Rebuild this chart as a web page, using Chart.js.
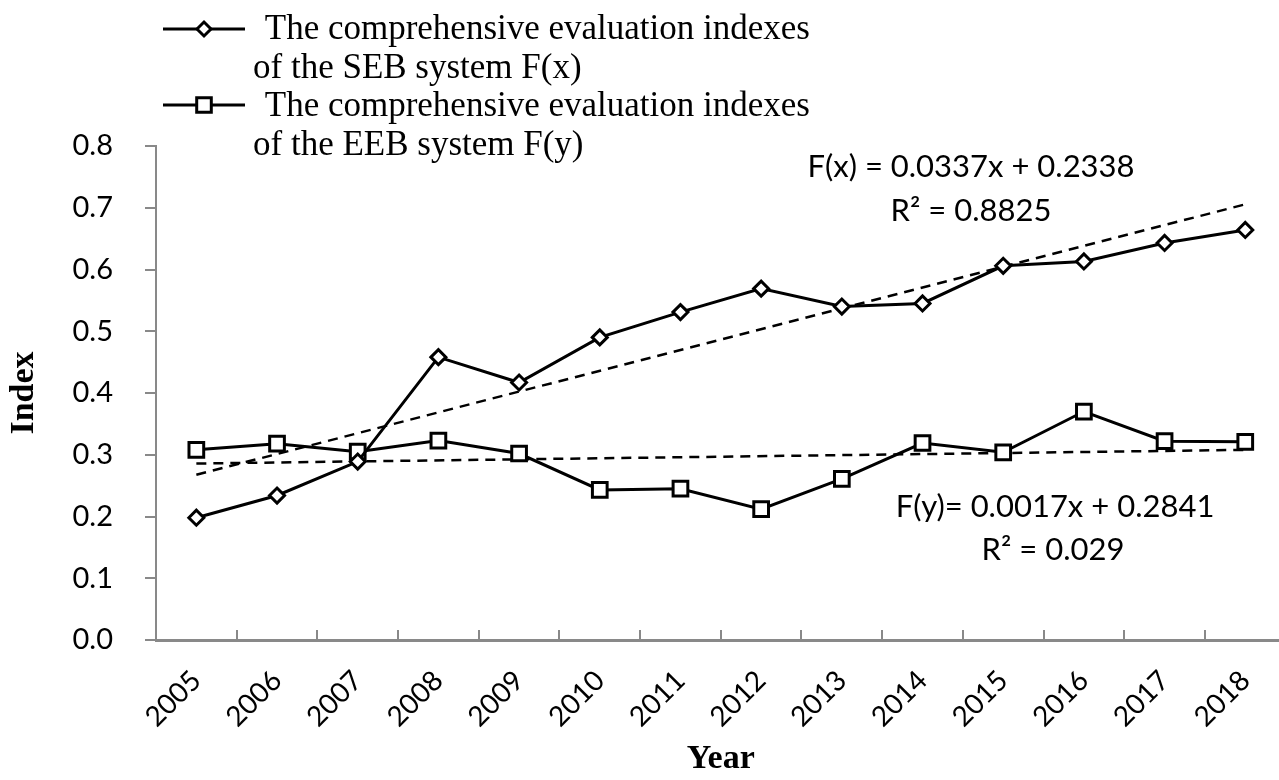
<!DOCTYPE html>
<html>
<head>
<meta charset="utf-8">
<script src="https://cdn.jsdelivr.net/npm/chart.js@4.4.1/dist/chart.umd.min.js"></script>
<style>
html,body{margin:0;padding:0;background:#fff;overflow:hidden;}
#wrap{position:relative;width:1279px;height:780px;overflow:hidden;}
canvas{display:block;}
</style>
</head>
<body>
<div id="wrap"><canvas id="c" width="1299" height="780"></canvas></div>
<script>
// ---- data ----
const years = ['2005','2006','2007','2008','2009','2010','2011','2012','2013','2014','2015','2016','2017','2018'];
const sebIndex = [0.198,0.234,0.289,0.458,0.417,0.490,0.531,0.569,0.540,0.545,0.606,0.613,0.643,0.664];
const eebIndex = [0.308,0.318,0.305,0.323,0.302,0.243,0.245,0.212,0.261,0.319,0.304,0.370,0.322,0.321];
const sebTrend = [0.2675,null,null,null,null,null,null,null,null,null,null,null,null,0.7056];
const eebTrend = [0.2858,null,null,null,null,null,null,null,null,null,null,null,null,0.3079];
const yTicks = [0,0.1,0.2,0.3,0.4,0.5,0.6,0.7,0.8];
const legendLabels = [
  [' The comprehensive evaluation indexes','of the SEB system F(x)'],
  [' The comprehensive evaluation indexes','of the EEB system F(y)']
];
const sebEquation = ['F(x) = 0.0337x + 0.2338','R\u00B2 = 0.8825'];
const eebEquation = ['F(y)= 0.0017x + 0.2841','R\u00B2 = 0.029'];

const AXIS = '#898989';

const annotPlugin = {
  id: 'annot',
  afterDraw(chart) {
    const ctx = chart.ctx;
    ctx.save();
    // legend
    const rows = [{y: 29, style: 'diamond', base: [39, 78]}, {y: 105, style: 'square', base: [116, 155]}];
    rows.forEach((r, i) => {
      ctx.strokeStyle = '#000';
      ctx.lineWidth = 3;
      ctx.beginPath();
      ctx.moveTo(163, r.y); ctx.lineTo(245, r.y);
      ctx.stroke();
      ctx.fillStyle = '#fff';
      ctx.beginPath();
      if (r.style === 'diamond') {
        const s = 7;
        ctx.moveTo(204 - s, r.y); ctx.lineTo(204, r.y - s); ctx.lineTo(204 + s, r.y); ctx.lineTo(204, r.y + s); ctx.closePath();
      } else {
        const s = 7.3;
        ctx.rect(204 - s, r.y - s, 2 * s, 2 * s);
      }
      ctx.fill(); ctx.stroke();
      ctx.fillStyle = '#000';
      ctx.font = '35px "Liberation Serif"';
      ctx.textAlign = 'left';
      ctx.textBaseline = 'alphabetic';
      ctx.fillText(legendLabels[i][0], 256, r.base[0]);
      ctx.fillText(legendLabels[i][1], 253, r.base[1]);
    });
    // equations
    ctx.font = '31px Lato';
    ctx.textAlign = 'center';
    ctx.fillStyle = '#000';
    ctx.fillText(sebEquation[0], 971, 177);
    ctx.fillText(sebEquation[1], 971, 221);
    ctx.fillText(eebEquation[0], 1055, 517);
    ctx.fillText(eebEquation[1], 1053, 560);
    ctx.restore();
  }
};

new Chart(document.getElementById('c'), {
  type: 'line',
  data: {
    labels: years,
    datasets: [
      {
        label: 'SEB', data: sebIndex, borderColor: '#000', borderWidth: 3,
        pointStyle: 'rectRot', pointRadius: 7.5, pointBackgroundColor: '#fff',
        pointBorderColor: '#000', pointBorderWidth: 3, tension: 0
      },
      {
        label: 'EEB', data: eebIndex, borderColor: '#000', borderWidth: 3,
        pointStyle: 'rect', pointRadius: 10.4, pointBackgroundColor: '#fff',
        pointBorderColor: '#000', pointBorderWidth: 3, tension: 0
      },
      {
        label: 'SEB trend', data: sebTrend, spanGaps: true, borderColor: '#000', borderWidth: 2.5,
        borderDash: [10, 7], pointRadius: 0
      },
      {
        label: 'EEB trend', data: eebTrend, spanGaps: true, borderColor: '#000', borderWidth: 2.5,
        borderDash: [10, 7], pointRadius: 0
      }
    ]
  },
  options: {
    responsive: false,
    animation: false,
    events: [],
    layout: {padding: {top: 146, right: 0, bottom: 0, left: 0}},
    plugins: {legend: {display: false}, tooltip: {enabled: false}},
    scales: {
      x: {
        type: 'category',
        offset: true,
        grid: {offset: true, drawOnChartArea: false, drawTicks: true, tickLength: -10, color: AXIS, lineWidth: 2},
        border: {color: AXIS, width: 3},
        ticks: {autoSkip: false, maxRotation: 45, minRotation: 45, padding: 34,
                font: {family: 'Lato', size: 28}, color: '#000'},
        title: {display: true, text: 'Year', color: '#000',
                font: {family: 'Liberation Serif', size: 34, weight: 'bold'}, padding: {top: 3, bottom: 0}},
        afterFit(s) { s.height = 140; s.paddingLeft = 0; s.paddingRight = 0; }
      },
      y: {
        min: 0, max: 0.8,
        afterBuildTicks(s) { s.ticks = yTicks.map(v => ({value: v})); },
        ticks: {callback: v => Number(v).toFixed(1), padding: 32,
                font: {family: 'Lato', size: 29}, color: '#000'},
        grid: {drawOnChartArea: false, drawTicks: true, tickLength: 11, color: AXIS, lineWidth: 2},
        border: {color: AXIS, width: 2},
        title: {display: true, text: 'Index', color: '#000',
                font: {family: 'Liberation Serif', size: 34, weight: 'bold'}, padding: {top: 4, bottom: 0}},
        afterFit(s) { s.width = 156; s.paddingTop = 0; s.paddingBottom = 0; }
      }
    }
  },
  plugins: [annotPlugin]
});
</script>
</body>
</html>
